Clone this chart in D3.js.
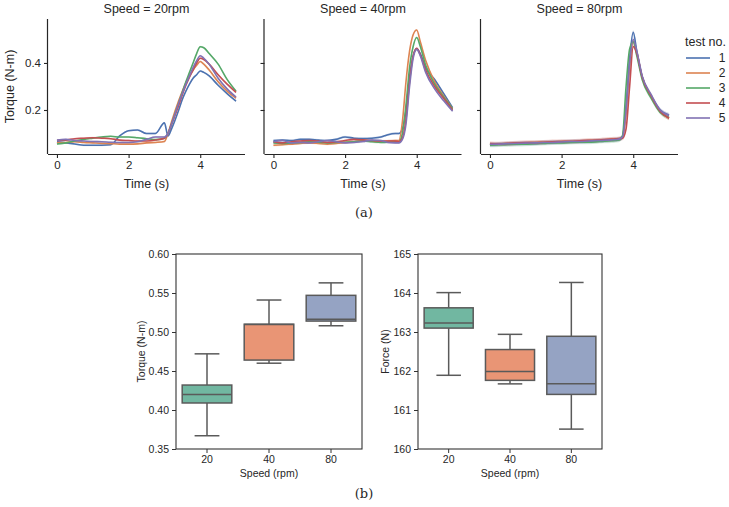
<!DOCTYPE html>
<html>
<head>
<meta charset="utf-8">
<script src="https://cdn.jsdelivr.net/npm/d3@7"></script>
<style>
body { margin: 0; background: #fff; }
text { font-family: "Liberation Sans", Arial, sans-serif; fill: #262626; }
.cap { font-family: "DejaVu Serif", "Liberation Serif", serif; }
</style>
</head>
<body>
<div id="chart"></div>
<script>
// ---- data ----
var times = [0, 0.25, 0.5, 0.75, 1, 1.25, 1.5, 1.75, 2, 2.25, 2.5, 2.75, 3, 3.1, 3.2, 3.4, 3.5, 3.6, 3.7, 3.8, 3.9, 4, 4.1, 4.25, 4.5, 4.75, 5];
var speeds = ["20", "40", "80"];
var tests = ["1", "2", "3", "4", "5"];

var torque20 = [
  [0.065,0.06,0.055,0.05,0.05,0.05,0.052,0.09,0.112,0.115,0.1,0.10,0.145,0.09,0.12,0.2,0.245,0.28,0.31,0.335,0.35,0.366,0.36,0.345,0.305,0.27,0.238],
  [0.06,0.062,0.065,0.062,0.06,0.058,0.057,0.055,0.055,0.056,0.06,0.062,0.066,0.1,0.15,0.24,0.28,0.315,0.345,0.37,0.39,0.406,0.395,0.37,0.32,0.28,0.25],
  [0.055,0.06,0.068,0.075,0.08,0.085,0.088,0.085,0.085,0.082,0.078,0.074,0.08,0.1,0.14,0.23,0.275,0.32,0.36,0.40,0.44,0.469,0.465,0.44,0.395,0.33,0.28],
  [0.07,0.072,0.078,0.08,0.082,0.08,0.078,0.072,0.07,0.068,0.068,0.072,0.08,0.1,0.14,0.22,0.265,0.305,0.34,0.37,0.40,0.42,0.415,0.395,0.35,0.31,0.275],
  [0.072,0.075,0.07,0.068,0.066,0.065,0.063,0.062,0.062,0.065,0.075,0.085,0.085,0.1,0.14,0.23,0.27,0.31,0.345,0.38,0.41,0.431,0.42,0.395,0.335,0.29,0.255]
];
var torque40 = [
  [0.07,0.072,0.07,0.075,0.075,0.072,0.07,0.075,0.085,0.08,0.078,0.08,0.085,0.09,0.095,0.1,0.1,0.12,0.2,0.34,0.43,0.46,0.44,0.38,0.33,0.27,0.21],
  [0.05,0.052,0.055,0.058,0.06,0.058,0.055,0.058,0.062,0.065,0.07,0.068,0.065,0.065,0.068,0.07,0.07,0.15,0.32,0.45,0.52,0.54,0.49,0.41,0.32,0.26,0.205],
  [0.06,0.058,0.06,0.062,0.065,0.063,0.06,0.062,0.063,0.065,0.068,0.065,0.062,0.062,0.063,0.065,0.065,0.1,0.22,0.38,0.47,0.508,0.47,0.39,0.31,0.255,0.205],
  [0.065,0.06,0.065,0.068,0.07,0.068,0.062,0.065,0.07,0.075,0.073,0.07,0.068,0.068,0.068,0.068,0.065,0.08,0.16,0.32,0.43,0.462,0.435,0.37,0.30,0.25,0.20],
  [0.065,0.07,0.06,0.062,0.06,0.065,0.07,0.065,0.06,0.062,0.066,0.072,0.07,0.066,0.062,0.06,0.06,0.075,0.14,0.30,0.42,0.458,0.43,0.36,0.29,0.24,0.195]
];
var torque80 = [
  [0.052,0.054,0.055,0.056,0.058,0.058,0.06,0.062,0.063,0.064,0.065,0.066,0.068,0.069,0.07,0.072,0.073,0.075,0.085,0.22,0.42,0.53,0.45,0.34,0.26,0.20,0.178],
  [0.056,0.056,0.057,0.059,0.06,0.062,0.063,0.064,0.066,0.066,0.068,0.07,0.071,0.072,0.073,0.075,0.076,0.077,0.085,0.18,0.38,0.49,0.445,0.34,0.26,0.195,0.165],
  [0.05,0.052,0.053,0.054,0.055,0.057,0.058,0.06,0.06,0.062,0.063,0.063,0.065,0.066,0.067,0.069,0.07,0.072,0.09,0.30,0.46,0.49,0.43,0.33,0.25,0.19,0.168],
  [0.057,0.056,0.058,0.06,0.062,0.061,0.063,0.065,0.066,0.067,0.069,0.071,0.072,0.073,0.074,0.076,0.077,0.078,0.08,0.12,0.30,0.47,0.44,0.34,0.26,0.195,0.165],
  [0.054,0.055,0.057,0.058,0.059,0.06,0.062,0.062,0.064,0.066,0.066,0.068,0.07,0.07,0.071,0.073,0.074,0.076,0.085,0.20,0.40,0.50,0.45,0.345,0.265,0.20,0.178]
];
var torqueSeries = [torque20, torque40, torque80];
var ciHalf = [0.004, 0.005, 0.009];

// box stats: [whisker low, q1, median, q3, whisker high]
var torqueBox = [
  [0.367, 0.409, 0.420, 0.432, 0.472],
  [0.460, 0.464, 0.5095, 0.510, 0.541],
  [0.508, 0.514, 0.5163, 0.547, 0.563]
];
var forceBox = [
  [161.89, 163.10, 163.23, 163.62, 164.01],
  [161.67, 161.76, 161.99, 162.55, 162.94],
  [160.51, 161.40, 161.67, 162.89, 164.27]
];
var torqueTicks = [0.35, 0.40, 0.45, 0.50, 0.55, 0.60];
var forceTicks = [160, 161, 162, 163, 164, 165];

var lineColors = ["#4c72b0", "#dd8452", "#55a868", "#c44e52", "#8172b3"];
var boxColors = ["#71b7a1", "#e99575", "#95a3c3"];

// ---- svg ----
var width = 729, height = 507;
var svg = d3.select("#chart").append("svg")
  .attr("width", width).attr("height", height);

// ---- top: line panels ----
var panelLeft = [48, 264.5, 481];
var panelW = 197;
var top_y = 19, bottom_y = 154;

var y_scale = d3.scaleLinear().domain([0.0128, 0.587]).range([bottom_y, top_y]);

speeds.forEach(function(sp, i){
  var x0 = panelLeft[i];
  var x_scale = d3.scaleLinear().domain([-0.25, 5.25]).range([x0, x0 + panelW]);
  var g = svg.append("g");

  var line = d3.line()
    .x(function(d, k){ return x_scale(times[k]); })
    .y(function(d){ return y_scale(d); })
    .curve(d3.curveMonotoneX);
  var area = d3.area()
    .x(function(d, k){ return x_scale(times[k]); })
    .y0(function(d){ return y_scale(d - ciHalf[i]); })
    .y1(function(d){ return y_scale(d + ciHalf[i]); })
    .curve(d3.curveMonotoneX);

  torqueSeries[i].forEach(function(vals, j){
    g.append("path").attr("d", area(vals))
      .attr("fill", lineColors[j]).attr("opacity", 0.2);
  });
  torqueSeries[i].forEach(function(vals, j){
    g.append("path").attr("d", line(vals))
      .attr("fill", "none").attr("stroke", lineColors[j])
      .attr("stroke-width", 1.6);
  });

  var xAxis = d3.axisBottom(x_scale).tickValues([0, 2, 4]).tickSize(4).tickPadding(3)
    .tickFormat(d3.format("d"));
  var gx = g.append("g").attr("transform", "translate(0," + bottom_y + ")").call(xAxis);
  gx.select(".domain").attr("d", "M" + x0 + ",0.5H" + (x0 + panelW));

  var yAxis = d3.axisLeft(y_scale).tickValues([0.2, 0.4]).tickSize(4).tickPadding(3)
    .tickFormat(d3.format(".1f"));
  if (i > 0) yAxis.tickFormat("");
  var gy = g.append("g").attr("transform", "translate(" + x0 + ",0)").call(yAxis);
  gy.select(".domain").attr("d", "M-0.5," + top_y + "V" + bottom_y);

  [gx, gy].forEach(function(a){
    a.selectAll(".domain").attr("stroke", "#262626").attr("stroke-width", 1.2);
    a.selectAll(".tick line").attr("stroke", "#262626").attr("stroke-width", 1.1);
    a.selectAll(".tick text").attr("font-size", 11.5).attr("fill", "#262626")
      .attr("font-family", "Liberation Sans, Arial, sans-serif");
  });

  g.append("text").attr("x", x0 + panelW / 2).attr("y", 13)
    .attr("text-anchor", "middle").attr("font-size", 12.5)
    .text("Speed = " + sp + "rpm");
  g.append("text").attr("x", x_scale(2.5)).attr("y", 188)
    .attr("text-anchor", "middle").attr("font-size", 12.5).text("Time (s)");
});

svg.append("text")
  .attr("transform", "translate(14," + ((top_y + bottom_y) / 2) + ")rotate(-90)")
  .attr("text-anchor", "middle").attr("font-size", 12.5).text("Torque (N-m)");

// legend
var legend = svg.append("g");
legend.append("text").attr("x", 685).attr("y", 46).attr("font-size", 12.5).text("test no.");
tests.forEach(function(t, j){
  var yy = 58 + j * 15;
  legend.append("line").attr("x1", 686).attr("x2", 710).attr("y1", yy).attr("y2", yy)
    .attr("stroke", lineColors[j]).attr("stroke-width", 1.6);
  legend.append("text").attr("x", 722).attr("y", yy + 4).attr("font-size", 12)
    .attr("text-anchor", "middle").text(t);
});

svg.append("text").attr("class", "cap").attr("x", 364).attr("y", 217)
  .attr("text-anchor", "middle").attr("font-size", 13).text("(a)");

// ---- bottom: box panels ----
function boxPanel(x0, x1, stats, domain, ticks, fmt, ylab, ylabX){
  var by0 = 254, by1 = 449;
  var xs = d3.scaleBand().domain(speeds).range([x0, x1]);
  var ys = d3.scaleLinear().domain(domain).range([by1, by0]);
  var g = svg.append("g");
  var bw = xs.bandwidth() * 0.8;

  stats.forEach(function(s, i){
    var cx = xs(speeds[i]) + xs.bandwidth() / 2;
    var stroke = "#5a5a5a";
    g.append("line").attr("x1", cx).attr("x2", cx).attr("y1", ys(s[0])).attr("y2", ys(s[1]))
      .attr("stroke", stroke).attr("stroke-width", 1.5);
    g.append("line").attr("x1", cx).attr("x2", cx).attr("y1", ys(s[3])).attr("y2", ys(s[4]))
      .attr("stroke", stroke).attr("stroke-width", 1.5);
    [s[0], s[4]].forEach(function(v){
      g.append("line").attr("x1", cx - bw / 4).attr("x2", cx + bw / 4)
        .attr("y1", ys(v)).attr("y2", ys(v)).attr("stroke", stroke).attr("stroke-width", 1.5);
    });
    g.append("rect").attr("x", cx - bw / 2).attr("width", bw)
      .attr("y", ys(s[3])).attr("height", ys(s[1]) - ys(s[3]))
      .attr("fill", boxColors[i]).attr("stroke", stroke).attr("stroke-width", 1.5);
    g.append("line").attr("x1", cx - bw / 2).attr("x2", cx + bw / 2)
      .attr("y1", ys(s[2])).attr("y2", ys(s[2])).attr("stroke", stroke).attr("stroke-width", 1.5);
  });

  g.append("rect").attr("x", x0).attr("y", by0).attr("width", x1 - x0).attr("height", by1 - by0)
    .attr("fill", "none").attr("stroke", "#333").attr("stroke-width", 1.1);

  var yAxis = d3.axisLeft(ys).tickValues(ticks).tickFormat(fmt).tickSize(4).tickPadding(3);
  var gy = g.append("g").attr("transform", "translate(" + x0 + ",0)").call(yAxis);
  var xAxis = d3.axisBottom(xs).tickSize(4).tickPadding(3);
  var gx = g.append("g").attr("transform", "translate(0," + by1 + ")").call(xAxis);
  [gx, gy].forEach(function(a){
    a.select(".domain").remove();
    a.selectAll(".tick line").attr("stroke", "#333");
    a.selectAll(".tick text").attr("font-size", 10.5).attr("fill", "#262626")
      .attr("font-family", "Liberation Sans, Arial, sans-serif");
  });

  g.append("text").attr("x", (x0 + x1) / 2).attr("y", 477)
    .attr("text-anchor", "middle").attr("font-size", 10.5).text("Speed (rpm)");
  g.append("text")
    .attr("transform", "translate(" + ylabX + "," + ((by0 + by1) / 2) + ")rotate(-90)")
    .attr("text-anchor", "middle").attr("font-size", 10.5).text(ylab);
}

boxPanel(176, 362, torqueBox, [0.35, 0.60], torqueTicks, d3.format(".2f"), "Torque (N-m)", 145);
boxPanel(418, 602, forceBox, [160, 165], forceTicks, d3.format("d"), "Force (N)", 389);

svg.append("text").attr("class", "cap").attr("x", 364).attr("y", 498)
  .attr("text-anchor", "middle").attr("font-size", 13).text("(b)");
</script>
</body>
</html>
